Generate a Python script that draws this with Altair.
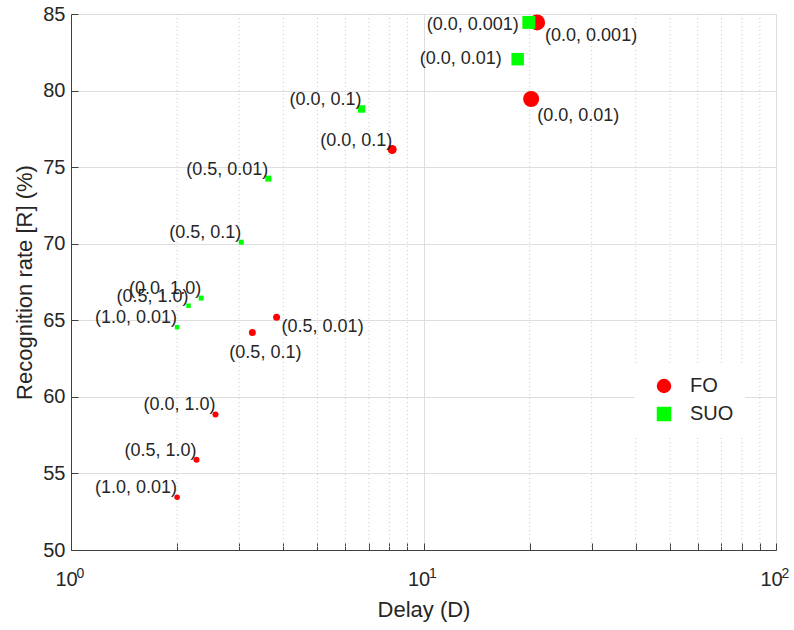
import altair as alt
import pandas as pd

# ---------------- data ----------------
series_names = ["FO", "SUO"]

fo_delay = [21.0, 20.2, 8.15, 3.83, 3.27, 2.57, 2.27, 2.0]
fo_rate = [84.45, 79.45, 76.15, 65.2, 64.2, 58.85, 55.9, 53.45]
fo_labels = ["(0.0, 0.001)", "(0.0, 0.01)", "(0.0, 0.1)", "(0.5, 0.01)",
             "(0.5, 0.1)", "(0.0, 1.0)", "(0.5, 1.0)", "(1.0, 0.01)"]

suo_delay = [19.9, 18.5, 6.67, 3.63, 3.04, 2.34, 2.155, 2.0]
suo_rate = [84.45, 82.05, 78.8, 74.25, 70.1, 66.45, 65.95, 64.55]
suo_labels = ["(0.0, 0.001)", "(0.0, 0.01)", "(0.0, 0.1)", "(0.5, 0.01)",
              "(0.5, 0.1)", "(0.0, 1.0)", "(0.5, 1.0)", "(1.0, 0.01)"]

x_major = [1, 10, 100]
x_minor = [2, 3, 4, 5, 6, 7, 8, 9, 20, 30, 40, 50, 60, 70, 80, 90]
y_ticks = [50, 55, 60, 65, 70, 75, 80, 85]

# ---------------- styles ----------------
FONT = "Liberation Sans"
TEXT = "#262626"
AXIS = "#404040"
GRID = "#dedede"
MINOR = "#c8c8c8"
COLORS = ["#ff0000", "#00ff00"]
SHAPES = ["circle", "square"]

fo_marker_px = [16, 16, 9, 7, 7, 6, 6, 5.5]
suo_marker_px = [13, 12.5, 7.5, 6, 5, 5, 4.5, 4.5]

placements = {
    "nw": dict(align="right", dx=0, dy=-9),
    "se1": dict(align="left", dx=8, dy=14),
    "se2": dict(align="left", dx=6, dy=17),
    "se3": dict(align="left", dx=5, dy=10),
    "s": dict(align="center", dx=13, dy=20),
    "w1": dict(align="right", dx=-10, dy=3),
    "w2": dict(align="right", dx=-16, dy=0),
}
label_place = {
    ("FO", "(0.0, 0.001)"): "se1",
    ("FO", "(0.0, 0.01)"): "se2",
    ("FO", "(0.5, 0.01)"): "se3",
    ("FO", "(0.5, 0.1)"): "s",
    ("SUO", "(0.0, 0.001)"): "w1",
    ("SUO", "(0.0, 0.01)"): "w2",
}

rows = []
for name, dl, rt, lb, ms in [("FO", fo_delay, fo_rate, fo_labels, fo_marker_px),
                             ("SUO", suo_delay, suo_rate, suo_labels, suo_marker_px)]:
    for d, r, l, m in zip(dl, rt, lb, ms):
        rows.append(dict(series=name, delay=d, rate=r, label=l, msize=m * m,
                         place=label_place.get((name, l), "nw")))
df = pd.DataFrame(rows)
minor_df = pd.DataFrame({"v": x_minor})

xscale = alt.Scale(type="log", domain=[1, 100], nice=False)
yscale = alt.Scale(domain=[50, 85], nice=False, zero=False)

main_x_axis = alt.Axis(values=x_major, labelExpr="'10'", orient="bottom",
                       labelFont=FONT, labelFontSize=20, labelColor=TEXT,
                       labelOffset=-5, labelPadding=19, labelFlush=False,
                       ticks=False, domainColor=AXIS, grid=True, gridColor=GRID,
                       title="Delay (D)", titleFont=FONT, titleFontSize=22,
                       titleFontWeight="normal", titleColor=TEXT, titlePadding=10)
exp_x_axis = alt.Axis(values=x_major, orient="bottom",
                      labelExpr="toString(round(log(datum.value)/LN10))",
                      labelFont=FONT, labelFontSize=14, labelColor=TEXT,
                      labelAlign="left", labelOffset=5, labelPadding=16,
                      labelFlush=False, labelOverlap=False,
                      ticks=False, domain=False, grid=False, title=None)
tick_x_axis = alt.Axis(values=x_major + x_minor, orient="bottom", offset=-7,
                       tickSize=7, tickColor=AXIS, labels=False, domain=False,
                       grid=False, title=None)
main_y_axis = alt.Axis(values=y_ticks, orient="left", ticks=False,
                       labelFont=FONT, labelFontSize=20, labelColor=TEXT,
                       labelPadding=6, labelFlush=False, domainColor=AXIS,
                       grid=True, gridColor=GRID, title="Recognition rate [R] (%)",
                       titleFont=FONT, titleFontSize=22, titleFontWeight="normal",
                       titleColor=TEXT, titlePadding=6)
tick_y_axis = alt.Axis(values=y_ticks, orient="left", offset=-7, tickSize=7,
                       tickColor=AXIS, labels=False, domain=False, grid=False,
                       title=None)

legend = alt.Legend(title=None, orient="none", legendX=564, legendY=351,
                    fillColor="white", padding=11, labelFont=FONT,
                    labelFontSize=20, labelColor=TEXT, symbolSize=210,
                    symbolOffset=8, labelOffset=16, rowPadding=8,
                    symbolStrokeWidth=0)

minor_grid = alt.Chart(minor_df).mark_rule(
    color=MINOR, strokeDash=[1, 3], strokeWidth=1
).encode(x=alt.X("v:Q", scale=xscale, axis=main_x_axis))

points = alt.Chart(df).mark_point(filled=True, opacity=1, strokeWidth=0).encode(
    x=alt.X("delay:Q", scale=xscale, axis=tick_x_axis),
    y=alt.Y("rate:Q", scale=yscale, axis=main_y_axis),
    color=alt.Color("series:N", scale=alt.Scale(domain=series_names, range=COLORS), legend=legend),
    shape=alt.Shape("series:N", scale=alt.Scale(domain=series_names, range=SHAPES), legend=legend),
    size=alt.Size("msize:Q", scale=None),
    order=alt.Order("series:N", sort="ascending"),
)

text_layers = []
for i, (pname, p) in enumerate(placements.items()):
    if i == 0:
        xa, ya = exp_x_axis, tick_y_axis
    else:
        xa, ya = None, None
    t = alt.Chart(df).transform_filter(
        alt.datum.place == pname
    ).mark_text(font=FONT, fontSize=18, color=TEXT, baseline="middle",
                align=p["align"], dx=p["dx"], dy=p["dy"]).encode(
        x=alt.X("delay:Q", scale=xscale, axis=xa),
        y=alt.Y("rate:Q", scale=yscale, axis=ya),
        text="label:N",
    )
    text_layers.append(t)

chart = alt.layer(minor_grid, points, *text_layers).resolve_axis(
    x="independent", y="independent"
).properties(
    width=705, height=536, autosize="none",
    padding={"left": 71, "top": 14, "right": 18, "bottom": 80},
    background="white",
).configure_view(stroke=None)

chart.save("out.html", embed_options={"renderer": "svg", "actions": False})
